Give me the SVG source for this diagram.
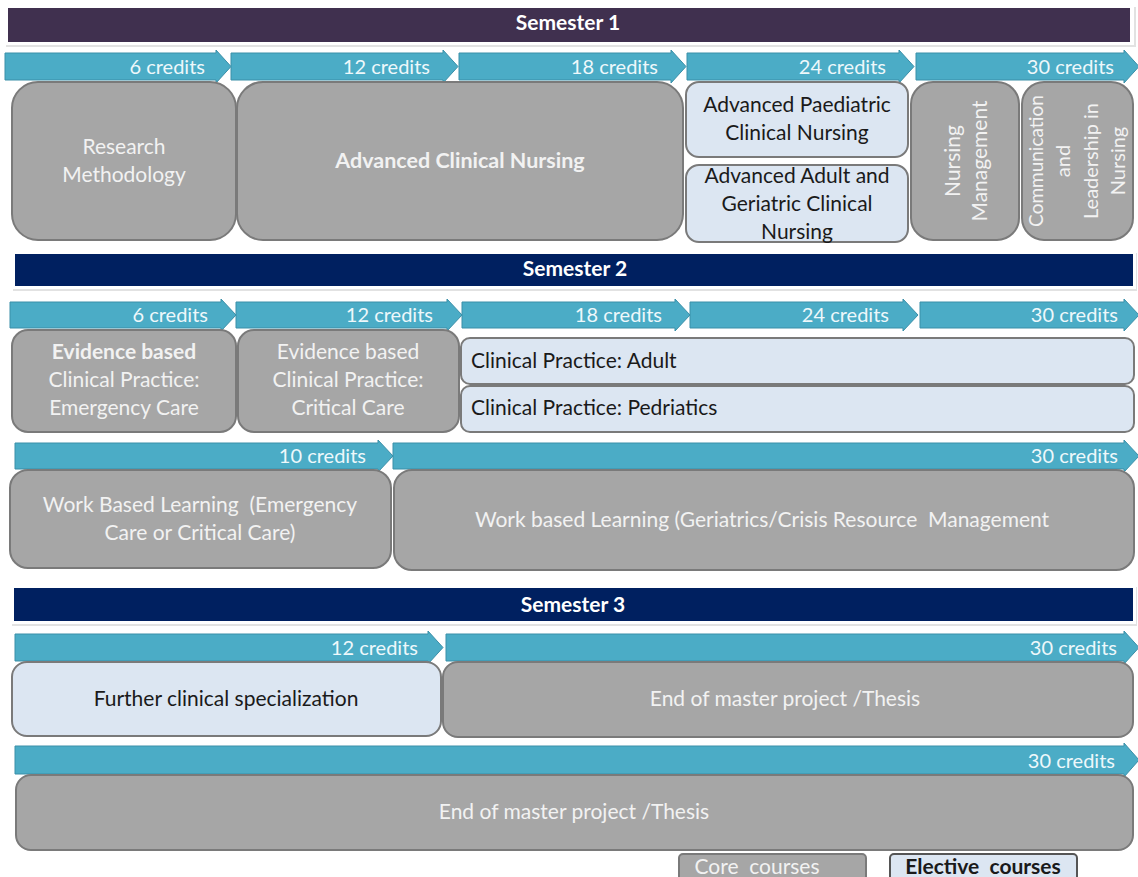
<svg xmlns="http://www.w3.org/2000/svg" width="1138" height="877" viewBox="0 0 1138 877">
<style>
text{font-family:Lato,"Open Sans","Liberation Sans",sans-serif}
.sem{fill:#ffffff;font-size:21px;font-weight:bold;text-anchor:middle}
.arr{fill:#4bacc6;stroke:#3a8fa8;stroke-width:1}
.cr{fill:#eef8fb;font-size:20px;text-anchor:end}
.core{fill:#a6a6a6;stroke:#7a7a7a;stroke-width:2}
.elec{fill:#dce6f2;stroke:#7a7a7a;stroke-width:2}
.ct{fill:#f2f2f2;font-size:21px;text-anchor:middle}
.et{fill:#1a1a1a;font-size:21px;text-anchor:middle}
.el{fill:#1a1a1a;font-size:21px}
.b{font-weight:bold}
</style>
<rect width="1138" height="877" fill="#ffffff"/>

<g id="semester1">
<rect x="6" y="7" width="1130" height="40" fill="#e2e2e2"/>
<rect x="5" y="5" width="1129" height="40" fill="#ffffff"/>
<rect x="8" y="8" width="1122" height="34" fill="#40304f"/>
<text class="sem" x="568" y="30">Semester 1</text>
</g>
<g id="semester2">
<rect x="13" y="253" width="1124" height="38" fill="#e2e2e2"/>
<rect x="12" y="251" width="1124" height="38" fill="#ffffff"/>
<rect x="15" y="254" width="1118" height="32" fill="#002060"/>
<text class="sem" x="575" y="276">Semester 2</text>
</g>
<g id="semester3">
<rect x="12" y="587" width="1125" height="39" fill="#e2e2e2"/>
<rect x="11" y="585" width="1125" height="39" fill="#ffffff"/>
<rect x="14" y="588" width="1119" height="33" fill="#002060"/>
<text class="sem" x="573" y="612">Semester 3</text>
</g>

<g id="connectors">
<polygon class="arr" points="5,53 216,53 216,50 231,66.5 216,83 216,80 5,80"/>
<polygon class="arr" points="231,53 443,53 443,50 458,66.5 443,83 443,80 231,80"/>
<polygon class="arr" points="459,53 671,53 671,50 686,66.5 671,83 671,80 459,80"/>
<polygon class="arr" points="687,53 899,53 899,50 914,66.5 899,83 899,80 687,80"/>
<polygon class="arr" points="916,53 1124,53 1124,50 1139,66.5 1124,83 1124,80 916,80"/>
<text class="cr" x="205" y="74">6 credits</text>
<text class="cr" x="430" y="74">12 credits</text>
<text class="cr" x="658" y="74">18 credits</text>
<text class="cr" x="886" y="74">24 credits</text>
<text class="cr" x="1114" y="74">30 credits</text>

<polygon class="arr" points="10,302 221,302 221,299 236,315 221,331 221,328 10,328"/>
<polygon class="arr" points="236,302 447,302 447,299 462,315 447,331 447,328 236,328"/>
<polygon class="arr" points="462,302 675,302 675,299 690,315 675,331 675,328 462,328"/>
<polygon class="arr" points="690,302 903,302 903,299 918,315 903,331 903,328 690,328"/>
<polygon class="arr" points="920,302 1124,302 1124,299 1139,315 1124,331 1124,328 920,328"/>
<text class="cr" x="208" y="322">6 credits</text>
<text class="cr" x="433" y="322">12 credits</text>
<text class="cr" x="662" y="322">18 credits</text>
<text class="cr" x="889" y="322">24 credits</text>
<text class="cr" x="1118" y="322">30 credits</text>

<polygon class="arr" points="15,443 378,443 378,440 393,456 378,472 378,469 15,469"/>
<polygon class="arr" points="393,443 1124,443 1124,440 1139,456 1124,472 1124,469 393,469"/>
<text class="cr" x="366" y="463">10 credits</text>
<text class="cr" x="1118" y="463">30 credits</text>

<polygon class="arr" points="15,634 428,634 428,631 443,647.5 428,664 428,661 15,661"/>
<polygon class="arr" points="446,634 1124,634 1124,631 1139,647.5 1124,664 1124,661 446,661"/>
<text class="cr" x="418" y="655">12 credits</text>
<text class="cr" x="1117" y="655">30 credits</text>

<polygon class="arr" points="15,746 1124,746 1124,743 1139,760 1124,777 1124,774 15,774"/>
<text class="cr" x="1115" y="768">30 credits</text>
</g>

<g id="research-methodology">
<rect class="core" x="12" y="82" width="224" height="158" rx="26"/>
<text class="ct" x="124" y="154">Research</text>
<text class="ct" x="124" y="182">Methodology</text>
</g>
<g id="advanced-clinical-nursing">
<rect class="core" x="237" y="82" width="446" height="158" rx="26"/>
<text class="ct b" x="460" y="168" style="font-size:21.5px">Advanced Clinical Nursing</text>
</g>
<g id="advanced-paediatric">
<rect class="elec" x="686" y="82" width="222" height="75" rx="13"/>
<text class="et" x="797" y="112">Advanced Paediatric</text>
<text class="et" x="797" y="140">Clinical Nursing</text>
</g>
<g id="advanced-adult">
<rect class="elec" x="686" y="165" width="222" height="77" rx="13"/>
<text class="et" x="797" y="183">Advanced Adult and</text>
<text class="et" x="797" y="211">Geriatric Clinical</text>
<text class="et" x="797" y="239">Nursing</text>
</g>
<g id="nursing-management">
<rect class="core" x="911" y="82" width="108" height="158" rx="22"/>
<text class="ct" transform="translate(960,161) rotate(-90)">Nursing</text>
<text class="ct" transform="translate(987,161) rotate(-90)">Management</text>
</g>
<g id="communication-leadership">
<rect class="core" x="1022" y="82" width="111" height="158" rx="22"/>
<text class="ct" style="font-size:19px" transform="translate(1043,161) rotate(-90)">Communication</text>
<text class="ct" style="font-size:20px" transform="translate(1070,161) rotate(-90)">and</text>
<text class="ct" style="font-size:20px" transform="translate(1098,161) rotate(-90)">Leadership in</text>
<text class="ct" style="font-size:20px" transform="translate(1125,161) rotate(-90)">Nursing</text>
</g>

<g id="ebcp-emergency">
<rect class="core" x="12" y="330" width="224" height="102" rx="16"/>
<text class="ct b" x="124" y="359">Evidence based</text>
<text class="ct" x="124" y="387">Clinical Practice:</text>
<text class="ct" x="124" y="415">Emergency Care</text>
</g>
<g id="ebcp-critical">
<rect class="core" x="238" y="330" width="221" height="102" rx="16"/>
<text class="ct" x="348" y="359">Evidence based</text>
<text class="ct" x="348" y="387">Clinical Practice:</text>
<text class="ct" x="348" y="415">Critical Care</text>
</g>
<g id="cp-adult">
<rect class="elec" x="461" y="338" width="673" height="46" rx="9"/>
<text class="el" x="471" y="368">Clinical Practice: Adult</text>
</g>
<g id="cp-pedriatics">
<rect class="elec" x="461" y="386" width="673" height="46" rx="9"/>
<text class="el" x="471" y="415">Clinical Practice: Pedriatics</text>
</g>
<g id="wbl-emergency">
<rect class="core" x="10" y="470" width="381" height="98" rx="18"/>
<text class="ct" x="200" y="512" xml:space="preserve">Work Based Learning  (Emergency</text>
<text class="ct" x="200" y="540">Care or Critical Care)</text>
</g>
<g id="wbl-geriatrics">
<rect class="core" x="394" y="470" width="740" height="100" rx="18"/>
<text class="ct" x="762" y="527" xml:space="preserve">Work based Learning (Geriatrics/Crisis Resource  Management</text>
</g>

<g id="further-clinical">
<rect class="elec" x="12" y="662" width="429" height="74" rx="15"/>
<text class="et" x="226" y="706">Further clinical specialization</text>
</g>
<g id="thesis-a">
<rect class="core" x="443" y="662" width="690" height="75" rx="15"/>
<text class="ct" x="785" y="706">End of master project /Thesis</text>
</g>
<g id="thesis-b">
<rect class="core" x="16" y="775" width="1117" height="75" rx="15"/>
<text class="ct" x="574" y="819">End of master project /Thesis</text>
</g>

<g id="legend-core">
<rect class="core" x="679" y="854" width="187" height="30" rx="4"/>
<text class="ct" x="757" y="874" xml:space="preserve">Core  courses</text>
</g>
<g id="legend-elective">
<rect class="elec" x="890" y="854" width="187" height="30" rx="4" style="stroke:#555555"/>
<text class="et b" x="983" y="874" xml:space="preserve">Elective  courses</text>
</g>
</svg>
